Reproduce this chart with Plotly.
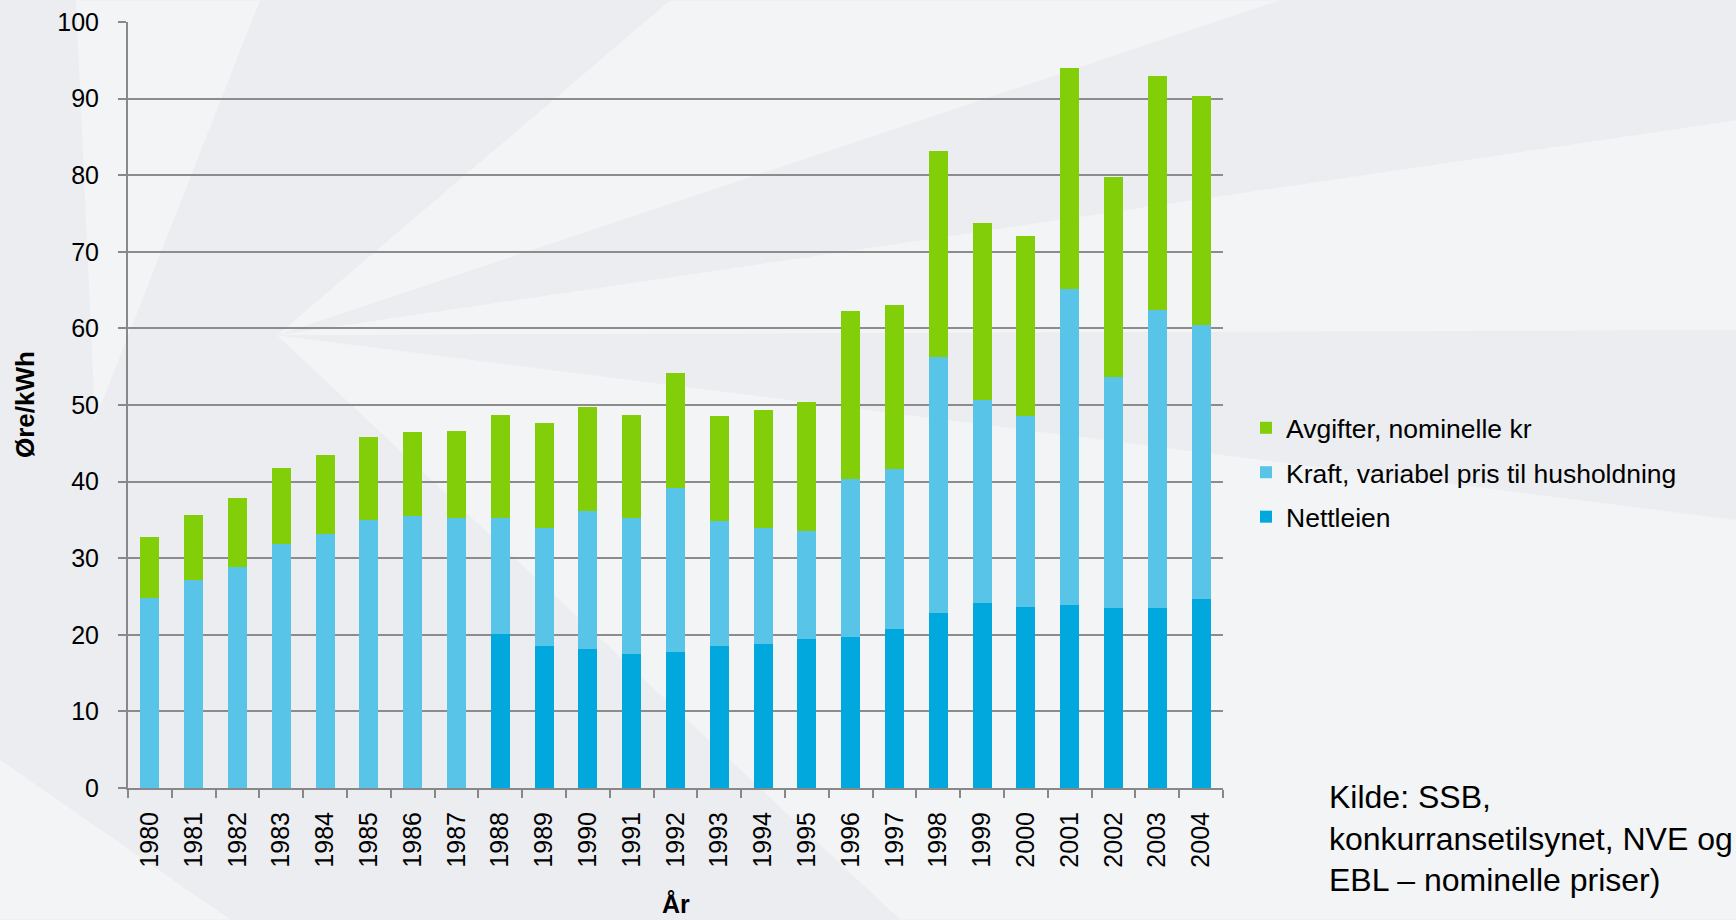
import plotly.graph_objects as go

years = [str(y) for y in range(1980, 2005)]
nettleien = [0, 0, 0, 0, 0, 0, 0, 0, 20.1, 18.6, 18.1, 17.5, 17.8, 18.6, 18.8, 19.4,
             19.7, 20.7, 22.8, 24.1, 23.6, 23.9, 23.5, 23.5, 24.7]
kraft = [24.8, 27.1, 28.8, 31.9, 33.2, 35.0, 35.5, 35.3, 15.2, 15.4, 18.0, 17.8, 21.3, 16.2, 15.2, 14.2,
         20.7, 21.0, 33.5, 26.5, 24.9, 41.2, 30.1, 38.9, 35.7]
avgifter = [8.0, 8.5, 9.1, 9.9, 10.3, 10.8, 11.0, 11.3, 13.4, 13.6, 13.7, 13.4, 15.1, 13.8, 15.3, 16.8,
            21.9, 21.4, 26.9, 23.1, 23.5, 28.9, 26.2, 30.6, 30.0]

names = ["Nettleien", "Kraft, variabel pris til husholdning", "Avgifter, nominelle kr"]
colors = ["#00A8DE", "#58C4E8", "#82CE08"]
ranks = [3, 2, 1]

FONT = "Liberation Sans, Arial, sans-serif"
W, H = 1736, 920
L, R = 128, 1223
T, B = 21.6, 788.3


def X(px):
    return (px - L) / (R - L)


def Y(py):
    return (B - py) / (B - T)


fig = go.Figure()
for i, (nm, vals, c, rk) in enumerate(zip(names, [nettleien, kraft, avgifter], colors, ranks)):
    fig.add_trace(go.Bar(x=years, y=vals, name=nm, marker=dict(color=c, line=dict(width=0)),
                         legendgroup=str(i), legendrank=rk))

# decorative background rays
shapes = []
ray_polys = [
    [(277, 335), (670, 0), (1280, 0)],
    [(95, 420), (76, 0), (260, 0)],
    [(277, 335), (1736, 120), (1736, 330)],
    [(277, 335), (1736, 520), (1736, 920), (900, 920)],
    [(0, 760), (230, 920), (0, 920)],
]
for poly in ray_polys:
    path = "M " + " L ".join(f"{X(px):.4f},{Y(py):.4f}" for px, py in poly) + " Z"
    shapes.append(dict(type="path", path=path, xref="paper", yref="paper",
                       fillcolor="rgba(255,255,255,0.38)", line=dict(width=0), layer="below"))

fig.update_layout(
    width=W, height=H,
    margin=dict(l=L, r=W - R, t=T, b=H - B, autoexpand=False),
    barmode="stack", bargap=0.57,
    paper_bgcolor="#EBEDF0", plot_bgcolor="rgba(0,0,0,0)",
    font=dict(family=FONT, size=25, color="#000000"),
    shapes=shapes,
    legend=dict(x=X(1246), y=Y(404), xanchor="left", yanchor="top",
                traceorder="grouped", tracegroupgap=7,
                font=dict(size=26.5, family=FONT, color="#000000"),
                bgcolor="rgba(0,0,0,0)", itemwidth=30),
    xaxis=dict(type="category", tickson="boundaries", ticks="outside", ticklen=8,
               tickcolor="#888888", tickwidth=2, showline=True, linecolor="#888888", linewidth=2,
               tickangle=-90, tickfont=dict(size=25), ticklabelstandoff=12, showgrid=False),
    yaxis=dict(range=[0, 100], dtick=10, ticks="outside", ticklen=8, tickcolor="#888888", tickwidth=2,
               showline=True, linecolor="#888888", linewidth=2, showgrid=True, gridcolor="#8C8C8C",
               gridwidth=2, zeroline=False, tickfont=dict(size=25), ticklabelstandoff=14),
    annotations=[
        dict(text="<b>Øre/kWh</b>", x=X(25), y=Y(405), xref="paper", yref="paper", textangle=-90,
             showarrow=False, xanchor="center", yanchor="middle", font=dict(size=26)),
        dict(text="<b>År</b>", x=X(676), y=Y(904), xref="paper", yref="paper",
             showarrow=False, xanchor="center", yanchor="middle", font=dict(size=25)),
        dict(text="Kilde: SSB,<br>konkurransetilsynet, NVE og<br>EBL – nominelle priser)",
             x=X(1327), y=Y(839), xref="paper", yref="paper", showarrow=False, align="left",
             xanchor="left", yanchor="middle", font=dict(size=32)),
    ],
)

fig.write_html("out.html", config={"displayModeBar": False},
               post_script="document.body.style.margin='0';document.body.style.overflow='hidden';")
